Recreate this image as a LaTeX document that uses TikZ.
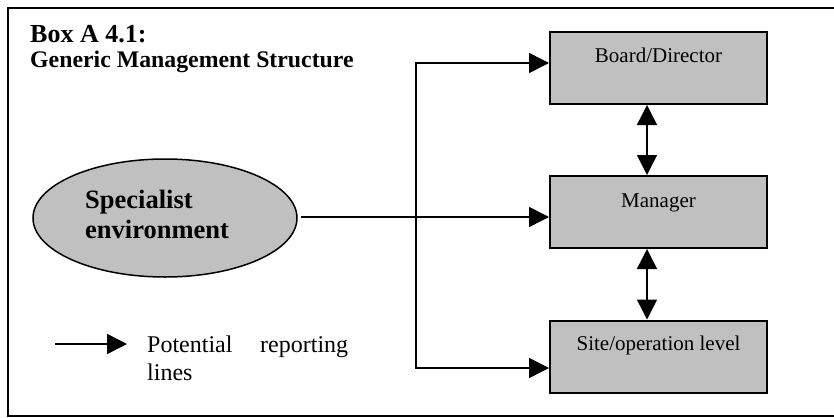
\documentclass[tikz,border=0pt]{standalone}
\usepackage{fontspec}
\setmainfont{Liberation Serif}
\usetikzlibrary{arrows.meta,shapes.geometric}
\definecolor{boxgray}{HTML}{C0C0C0}
\tikzset{
  unitbox/.style={draw=black, line width=2pt, fill=boxgray, minimum width=217pt, minimum height=72pt, inner sep=0pt},
  boxlabel/.style={anchor=base, inner sep=0pt, font=\fontsize{21}{25}\selectfont},
  arr/.style={line width=1.5pt, -{Triangle[length=20pt,width=20pt]}},
  darr/.style={line width=1.5pt, {Triangle[length=20pt,width=20pt]}-{Triangle[length=20pt,width=20pt]}},
  frame/.style={line width=2pt}
}
\begin{document}
\begin{tikzpicture}[x=1pt,y=-1pt]
\useasboundingbox (0,0) rectangle (834,417);
% frame
\draw[frame] (834,8) -- (8,8) -- (8,416) -- (834,416);
% title
\node[anchor=base west, inner sep=0pt, font=\bfseries\fontsize{26}{30}\selectfont] (title) at (30,43) {Box A 4.1:};
\node[anchor=base west, inner sep=0pt, font=\bfseries\fontsize{23.8}{27}\selectfont] (subtitle) at (30,68) {Generic Management Structure};
% boxes
\node[unitbox] (board) at (658.5,68) {};
\node[unitbox] (mgr) at (658.5,212) {};
\node[unitbox] (site) at (658.5,356.5) {};
\node[boxlabel] (boardt) at (658.5,63) {Board/Director};
\node[boxlabel] (mgrt) at (658.5,207) {Manager};
\node[boxlabel] (sitet) at (658.5,350) {Site/operation level};
% ellipse
\node[ellipse, draw=black, line width=1.5pt, fill=boxgray, minimum width=264pt, minimum height=118pt, inner sep=0pt] (spec) at (165,218) {};
\node[anchor=base west, inner sep=0pt] (spect1) at (85,208) {\bfseries\fontsize{26.5}{30}\selectfont Specialist};
\node[anchor=base west, inner sep=0pt] (spect2) at (85,238) {\bfseries\fontsize{26.5}{30}\selectfont environment};
% connectors
\coordinate (start) at (301,217);
\coordinate (j) at (416,217);
\draw[arr] (start) -- ([yshift=-5pt]mgr.west);
\draw[arr] (j) |- ([yshift=5pt]board.west);
\draw[arr] (j) |- ([yshift=-11.5pt]site.west);
\draw[darr] ([xshift=-11.5pt]board.south) -- ([xshift=-11.5pt]mgr.north);
\draw[darr] ([xshift=-11.5pt]mgr.south) -- ([xshift=-11.5pt]site.north);
% legend
\coordinate (la) at (55,344);
\coordinate (lb) at (127,344);
\draw[arr] (la) -- (lb);
\node[anchor=base west, inner sep=0pt] (leg1) at (147,352) {\fontsize{24}{28}\selectfont\makebox[201pt][s]{Potential reporting}};
\node[anchor=base west, inner sep=0pt] (leg2) at (147,380) {\fontsize{24}{28}\selectfont lines};
\end{tikzpicture}
\end{document}
